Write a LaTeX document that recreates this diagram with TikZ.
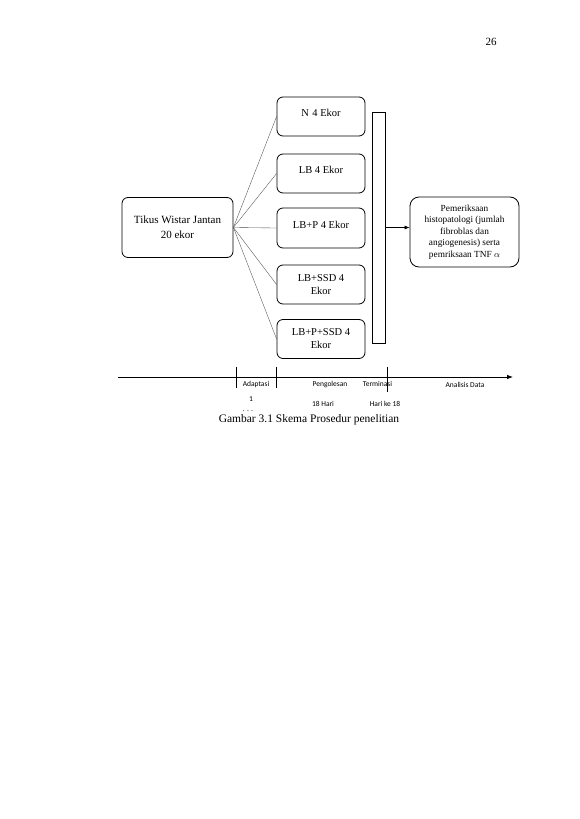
\documentclass[tikz,border=0pt]{standalone}
\usepackage{fontspec}
\setmainfont{Liberation Serif}
\newfontfamily\calfont{Carlito}
\usetikzlibrary{arrows.meta}
\begin{document}
\begin{tikzpicture}[x=1pt,y=-1pt,
	kotak/.style={draw,rounded corners=6pt,line width=.8pt,align=center,inner sep=1pt,font=\fontsize{10.5}{13}\selectfont},
	garis/.style={draw=black!70,line width=.35pt},
	waktu/.style={font=\calfont\fontsize{7.5}{9}\selectfont,inner sep=0pt}]
	\useasboundingbox (0,0) rectangle (579,819);
	\node at (491,42) (hal) {\fontsize{11}{13}\selectfont 26};
	\node[kotak,minimum width=111pt,minimum height=60pt,font=\fontsize{11}{15}\selectfont] at (177.5,227.5) (tikus) {Tikus Wistar Jantan\\20 ekor};
	\node[kotak,minimum width=88pt,minimum height=39pt] at (321,116.5) (n) {N\,\,4 Ekor\\[-6pt]\mbox{}};
	\node[kotak,minimum width=88pt,minimum height=39pt] at (321,173.5) (lb) {LB 4 Ekor\\[-6pt]\mbox{}};
	\node[kotak,minimum width=88pt,minimum height=40pt] at (321,228) (lbp) {LB+P 4 Ekor\\[-6pt]\mbox{}};
	\node[kotak,minimum width=88pt,minimum height=39pt] at (321,284.5) (lbs) {LB+SSD 4\\Ekor};
	\node[kotak,minimum width=88pt,minimum height=39pt] at (321,339) (lbps) {LB+P+SSD 4\\Ekor};
	\node[draw,line width=.5pt,minimum width=13pt,minimum height=231pt,inner sep=0pt] at (378.5,227.5) (kurung) {};
	\node[kotak,rounded corners=9pt,minimum width=109pt,minimum height=70pt,inner sep=0pt,font=\fontsize{9.3}{11.5}\selectfont] at (464.5,232) (hasil) {Pemeriksaan\\histopatologi (jumlah\\fibroblas dan\\angiogenesis) serta\\pemriksaan TNF $\alpha$};
	\foreach \g in {n,lb,lbp,lbs,lbps}
		\draw[garis] (tikus.east) -- (\g.west);
	\draw[line width=.7pt,-{Latex[length=5pt,width=4pt]}] (kurung.east) -- (kurung.east -| hasil.west);
	% garis waktu
	\coordinate (awal) at (118,377);
	\coordinate (akhir) at (513,377);
	\draw[line width=.8pt,-{Latex[length=6pt,width=4.5pt]}] (awal) -- (akhir);
	\draw[line width=.4pt] (236,367) -- (236,388);
	\draw[line width=.4pt] (276,367) -- (276,388);
	\draw[line width=.4pt] (387,367) -- (387,392);
	\node[waktu] at (256,384) (adapt) {Adaptasi};
	\node[waktu] at (330,385) (oles) {Pengolesan};
	\node[waktu] at (377.5,384) (term) {Terminasi};
	\node[waktu] at (465,385) (analisis) {Analisis Data};
	\node[waktu] at (251,399) (satu) {1};
	\node[waktu,anchor=base] at (248,411) (titik) {. . .};
	\node[waktu] at (323,404) (hari) {18 Hari};
	\node[waktu] at (385,404) (harike) {Hari ke 18};
	\node at (309,420) (judul) {\fontsize{11.5}{13}\selectfont Gambar 3.1 Skema Prosedur penelitian};
\end{tikzpicture}
\end{document}
